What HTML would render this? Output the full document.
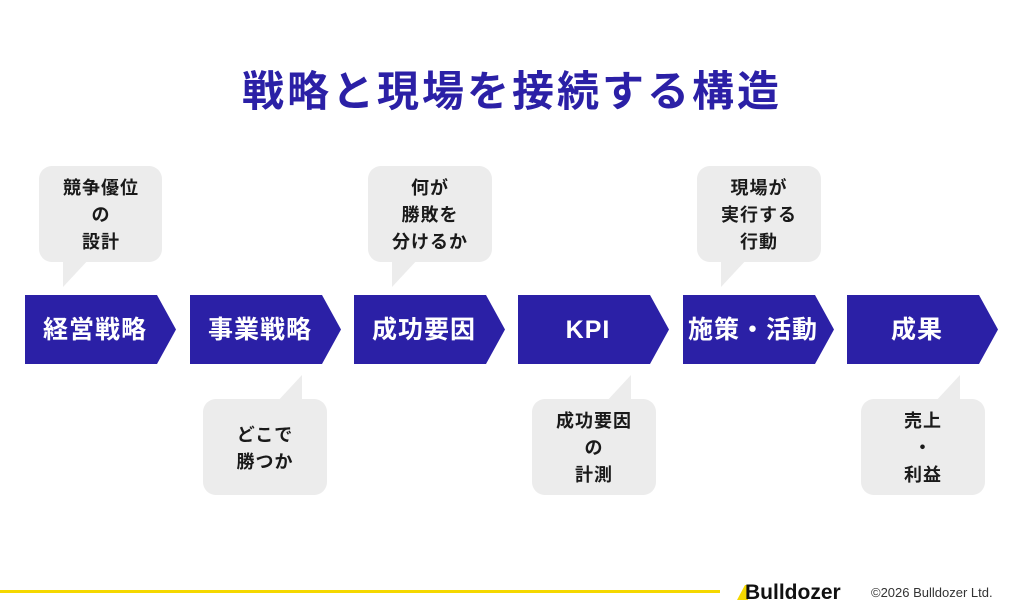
<!DOCTYPE html>
<html><head><meta charset="utf-8"><style>
html,body{margin:0;padding:0;background:#fff;}
svg{display:block;}
text{font-family:"Liberation Sans","Noto Sans CJK JP",sans-serif;font-weight:bold;}
</style></head><body>
<svg width="1024" height="614" viewBox="0 0 1024 614" xmlns="http://www.w3.org/2000/svg">
<text x="512" y="106" text-anchor="middle" font-size="42" fill="#2b20a6" letter-spacing="3">戦略と現場を接続する構造</text>

<g fill="#2b20a6">
<polygon points="25,295 157,295 176,329.5 157,364 25,364"/>
<polygon points="190,295 322,295 341,329.5 322,364 190,364"/>
<polygon points="354,295 486,295 505,329.5 486,364 354,364"/>
<polygon points="518,295 650,295 669,329.5 650,364 518,364"/>
<polygon points="683,295 815,295 834,329.5 815,364 683,364"/>
<polygon points="847,295 979,295 998,329.5 979,364 847,364"/>
</g>
<g fill="#fff" font-size="25" text-anchor="middle" letter-spacing="1">
<text x="95" y="338">経営戦略</text>
<text x="260" y="338">事業戦略</text>
<text x="424" y="338">成功要因</text>
<text x="588" y="338">KPI</text>
<text x="753" y="338">施策・活動</text>
<text x="917" y="338">成果</text>
</g>

<g fill="#ececec">
<rect x="39" y="166" width="123" height="96" rx="13"/>
<polygon points="63,258 63,287 90,258"/>
<rect x="368" y="166" width="124" height="96" rx="13"/>
<polygon points="392,258 392,287 419,258"/>
<rect x="697" y="166" width="124" height="96" rx="13"/>
<polygon points="721,258 721,287 748,258"/>
<rect x="203" y="399" width="124" height="96" rx="13"/>
<polygon points="302,403 302,375 276,403"/>
<rect x="532" y="399" width="124" height="96" rx="13"/>
<polygon points="631,403 631,375 605,403"/>
<rect x="861" y="399" width="124" height="96" rx="13"/>
<polygon points="960,403 960,375 934,403"/>
</g>
<g fill="#1a1a1a" font-size="18" text-anchor="middle" letter-spacing="1">
<text x="101" y="194">競争優位</text><text x="101" y="221">の</text><text x="101" y="248">設計</text>
<text x="430" y="194">何が</text><text x="430" y="221">勝敗を</text><text x="430" y="248">分けるか</text>
<text x="759" y="194">現場が</text><text x="759" y="221">実行する</text><text x="759" y="248">行動</text>
<text x="265" y="441">どこで</text><text x="265" y="468">勝つか</text>
<text x="594" y="427">成功要因</text><text x="594" y="454">の</text><text x="594" y="481">計測</text>
<text x="923" y="427">売上</text><text x="923" y="454">・</text><text x="923" y="481">利益</text>
</g>

<rect x="0" y="590" width="720" height="3" fill="#f5d800"/>
<polygon points="737,600 745,585 748,585 748,600" fill="#f5d800"/>
<text x="745" y="599" font-size="21" fill="#111">Bulldozer</text>
<text x="871" y="597" font-size="13" fill="#333" style="font-weight:normal">©2026 Bulldozer Ltd.</text>
</svg>
</body></html>
